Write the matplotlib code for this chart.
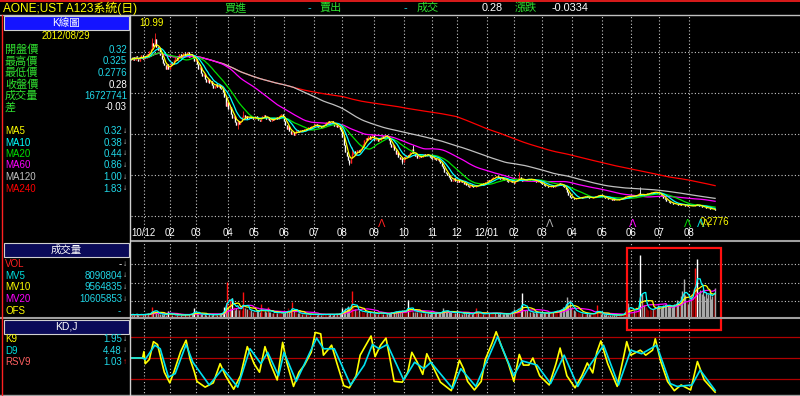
import numpy as np
import pandas as pd
import matplotlib
matplotlib.use('Agg')
import matplotlib.pyplot as plt
from matplotlib.patches import Rectangle
from matplotlib.lines import Line2D

plt.rcParams['font.family'] = ['Liberation Sans', 'Noto Sans CJK TC', 'DejaVu Sans']

# daily closes (one row per month roughly), last bar = 2012/08/29
close_prices = [
    9.40, 9.55, 9.35, 9.62, 9.50, 9.30, 9.58, 9.70, 9.45,
    9.60, 9.52, 9.75, 9.68, 9.90, 10.05, 10.40, 10.20, 10.65, 10.15, 9.95, 10.10,
    9.70, 9.45, 9.20, 9.05, 8.85, 9.10, 8.80, 9.00, 9.25, 9.15, 9.40,
    9.55, 9.35, 9.60, 9.75, 9.50, 9.68, 9.80, 9.62, 9.70, 9.85, 9.58, 9.72, 9.65, 9.50,
    9.30, 9.45, 9.10, 8.85, 8.95, 8.60, 8.40, 8.55, 8.25, 8.05, 8.20,
    7.95, 8.10, 7.85, 7.70, 7.80, 7.90, 7.75, 7.85, 7.70, 7.60, 7.45,
    7.10, 6.60, 6.85, 6.40, 6.55, 6.10, 5.85, 5.95, 5.60, 5.45, 5.70, 5.50, 5.65,
    5.90, 6.05, 5.85, 5.95, 5.80, 5.90, 6.00, 5.85, 5.78,
    5.82, 5.95, 5.88, 5.75, 5.70, 5.85, 5.98, 6.05, 5.92, 5.80, 5.86, 5.74, 5.68,
    5.80, 5.75, 5.85, 5.90, 5.78, 5.95, 6.05, 6.10, 5.95,
    5.70, 5.45, 5.20, 5.35, 5.05, 4.90, 5.00, 4.85, 4.95, 5.10, 5.05,
    5.00, 5.10, 5.05, 5.15, 5.20, 5.12, 5.25, 5.30, 5.22, 5.35, 5.40, 5.45,
    5.50, 5.38, 5.30, 5.35, 5.25, 5.32, 5.45, 5.55, 5.60, 5.70, 5.62, 5.55,
    5.65, 5.55, 5.40, 5.45, 5.30, 5.35, 5.20, 5.05, 4.70,
    4.20, 3.80, 3.55, 3.30, 3.10, 3.45, 3.70, 3.85, 3.60, 3.75,
    3.90, 3.80, 4.00, 4.15, 4.30, 4.50, 4.65, 4.55, 4.75, 4.60, 4.70, 4.80,
    4.55, 4.50, 4.62, 4.45, 4.55, 4.68, 4.75, 4.65, 4.80, 4.85, 4.70, 4.50,
    4.30, 4.10, 4.20, 3.90, 3.70, 3.80, 3.50, 3.35, 3.45, 3.20, 3.35, 3.55,
    3.60, 3.50, 3.65, 3.80, 4.00, 3.75, 3.55, 3.60, 3.45, 3.50,
    3.55, 3.48, 3.60, 3.65, 3.58, 3.70, 3.62, 3.50, 3.45,
    3.40, 3.45, 3.35, 3.30, 3.40, 3.25, 3.10, 2.95, 2.80, 2.60, 2.50,
    2.40, 2.25, 2.15, 2.05, 2.10, 2.20, 2.05, 2.00, 2.10, 2.00,
    2.05, 1.95, 1.85, 1.90, 1.80, 1.75, 1.70, 1.80, 1.72, 1.65, 1.70,
    1.75, 1.80, 1.78, 1.85, 1.90, 1.82, 1.88, 1.95, 2.00, 2.10,
    2.05, 2.15, 2.20, 2.30, 2.25, 2.35, 2.28, 2.20, 2.15, 2.25, 2.18, 2.10, 2.08,
    2.05, 2.00, 1.98, 2.02, 1.95, 1.92,
    2.05, 2.15, 2.20, 2.28, 2.10, 2.05, 2.12, 2.08, 2.15, 2.10,
    2.18, 2.12, 2.16, 2.10, 2.05, 2.00, 1.98, 2.02, 1.95,
    1.90, 1.85, 1.78, 1.72, 1.75, 1.68, 1.65, 1.72, 1.78, 1.70,
    1.75, 1.82, 1.85, 1.90, 1.88, 1.80, 1.72, 1.65, 1.55, 1.40,
    1.20, 1.05, 0.98, 1.02, 0.95, 0.92, 0.98, 1.00,
    1.05, 1.08, 1.02, 1.06, 1.10, 1.12, 1.08, 1.03, 0.98, 1.00,
    1.04, 1.08, 1.12, 1.15, 1.18, 1.20, 1.16,
    1.10, 1.05, 1.00, 0.98, 0.95, 0.97, 0.93, 0.90, 0.92, 0.88, 0.86, 0.88,
    0.92, 0.96, 1.00, 1.02, 1.06, 1.10, 1.15, 1.12, 1.08,
    1.10, 1.14, 1.12, 1.15, 1.18, 1.22, 1.30, 1.20, 1.18, 1.22, 1.20, 1.25,
    1.28, 1.30, 1.33, 1.35, 1.32, 1.36, 1.40, 1.34, 1.30, 1.25, 1.20,
    1.10, 1.00, 0.92, 0.85, 0.80, 0.75, 0.72, 0.68, 0.65, 0.62,
    0.64, 0.62, 0.60, 0.63, 0.61, 0.58, 0.56, 0.55, 0.57, 0.54, 0.52, 0.50,
    0.52, 0.55, 0.58, 0.62, 0.60, 0.55, 0.50, 0.46,
    0.46, 0.44, 0.42, 0.40, 0.38, 0.35, 0.33, 0.31, 0.32, 0.28,
]

# daily volume, millions of shares
volumes_m = [
    1.8, 2.1, 1.5, 2.0, 2.4, 1.4, 1.8, 2.2, 1.7, 2.0,
    2.2, 1.9, 2.6, 2.1, 3.2, 6.0, 3.6, 4.2, 2.8, 2.5,
    2.1, 2.0, 2.3, 1.8, 2.2, 1.7, 2.0, 4.0, 2.1, 1.7,
    1.5, 1.8, 2.0, 1.6, 1.4, 1.7, 1.9, 1.5, 1.7, 2.0,
    1.8, 1.5, 2.0, 2.4, 2.8, 2.4, 5.5, 3.0, 2.5, 2.1,
    2.2, 2.0, 2.4, 1.8, 2.1, 1.9, 1.7, 2.2, 1.8, 1.5,
    2.0, 1.8, 2.1, 1.8, 2.4, 2.1, 3.0, 3.5, 6.0, 7.0,
    20.0, 6.0, 10.5, 5.0, 11.0, 6.0, 4.5, 5.5, 7.0, 4.2,
    5.0, 4.5, 14.5, 5.6, 4.8, 5.2, 4.2, 3.8, 4.3, 3.5,
    3.9, 3.4, 3.6, 4.2, 3.2, 7.5, 3.5, 3.2, 3.8, 3.4,
    6.0, 3.2, 3.5, 2.9, 2.7, 3.1, 3.5, 2.9, 2.5, 2.8,
    3.2, 2.7, 2.9, 3.4, 3.5, 5.5, 3.2, 3.6, 9.0, 4.2,
    3.5, 3.1, 2.7, 2.8, 2.5, 2.2, 2.5, 2.1, 2.3, 2.0,
    2.1, 1.8, 2.0, 2.2, 1.9, 2.1, 1.8, 2.0, 2.2, 1.8,
    1.7, 2.0, 2.3, 1.9, 2.1, 1.8, 2.0, 2.2, 1.8, 2.0,
    2.1, 2.4, 2.0, 2.5, 3.0, 5.5, 4.6, 5.6, 4.9, 6.6,
    5.6, 4.6, 14.8, 6.3, 5.2, 4.8, 3.9, 4.2, 3.5, 3.9,
    3.2, 3.5, 2.9, 3.4, 2.8, 3.2, 2.7, 2.9, 2.5, 2.4,
    2.7, 2.2, 2.5, 4.0, 2.1, 2.3, 2.0, 2.4, 2.2, 2.5,
    2.8, 3.4, 2.9, 3.5, 3.9, 3.2, 4.1, 3.6, 3.4, 4.2,
    3.9, 4.3, 3.5, 10.0, 4.9, 4.1, 5.0, 3.5, 3.2, 3.9,
    3.4, 3.6, 3.1, 2.8, 3.2, 2.7, 2.9, 2.5, 2.8, 2.4,
    2.7, 2.5, 2.8, 2.5, 3.1, 2.7, 2.9, 3.2, 3.5, 5.5,
    3.6, 3.4, 3.9, 3.2, 3.5, 3.1, 2.7, 2.9, 2.8, 4.5,
    2.8, 2.5, 2.7, 2.4, 2.9, 2.5, 2.7, 2.2, 2.5, 2.1,
    2.4, 2.7, 3.2, 5.6, 2.8, 2.5, 2.2, 2.7, 2.1, 2.5,
    2.2, 2.5, 2.8, 2.5, 2.7, 2.9, 2.5, 2.8, 2.4, 2.7,
    2.2, 2.5, 2.1, 2.4, 2.2, 2.5, 2.1, 2.3, 2.7, 3.2,
    3.6, 4.9, 4.2, 3.9, 5.6, 6.3, 5.2, 14.0, 6.0, 4.6,
    3.9, 4.2, 3.5, 3.2, 3.6, 3.1, 2.8, 3.4, 2.9, 2.7,
    2.8, 2.5, 2.9, 2.7, 2.5, 2.8, 2.5, 3.1, 3.4, 3.5,
    3.2, 3.6, 4.1, 4.3, 3.9, 4.2, 4.9, 6.0, 6.3, 8.0,
    11.8, 7.0, 10.0, 5.6, 4.9, 4.2, 3.9, 3.5, 3.2, 2.9,
    2.8, 2.5, 2.7, 2.4, 2.2, 2.5, 2.1, 2.4, 2.2, 2.5,
    2.7, 2.9, 7.0, 2.8, 2.5, 2.2, 2.1, 2.0, 1.8, 2.1,
    1.8, 2.0, 1.7, 1.5, 1.8, 1.6, 1.4, 1.7, 1.5, 1.8,
    2.0, 2.1, 3.0, 4.5, 6.0, 8.5, 5.5, 4.2, 3.5, 4.4,
    5.0, 6.0, 4.5, 5.5, 35.0, 13.5, 9.0, 7.0, 6.0, 5.2,
    4.6, 5.0, 4.2, 4.8, 5.5, 6.5, 5.8, 7.0, 6.2, 5.5,
    6.0, 7.0, 7.5, 6.8, 7.2, 6.5, 7.0, 6.0, 6.4, 7.5,
    8.0, 10.0, 8.5, 9.0, 12.0, 15.0, 21.5, 12.5, 9.5, 8.0,
    10.5, 12.0, 14.0, 16.0, 27.6, 18.0, 32.8, 14.0, 15.5, 13.0,
    16.0, 12.0, 14.5, 11.0, 13.5, 15.0, 10.5, 12.0, 14.0, 16.7,
]

# intraday extremes that stick out of the bodies
high_marks = {15: 10.70, 17: 10.99, 82: 6.30, 162: 4.10, 207: 4.20,
              285: 2.58, 374: 1.66, 429: 0.325}
low_marks = {78: 5.20, 160: 3.00, 199: 3.05, 429: 0.2776}

# K9 / D9 turning points (day index, value)
k9_points = [
    (0, 50), (8, 50), (9, 59), (10, 42), (13, 48), (16, 73), (19, 69), (24, 30),
    (28, 15), (31, 30), (36, 59), (40, 75), (43, 48), (46, 31), (48, 17), (54, 9),
    (60, 15), (65, 42), (69, 25), (75, 6), (80, 25), (85, 66), (90, 42), (94, 30),
    (98, 66), (102, 42), (107, 19), (111, 72), (114, 44), (119, 10), (123, 30),
    (127, 40), (132, 58), (135, 86), (139, 84), (141, 54), (145, 63), (147, 68),
    (151, 42), (156, 11), (160, 8), (165, 25), (168, 54), (176, 81), (179, 52),
    (183, 68), (187, 78), (190, 48), (193, 17), (199, 16), (203, 30), (206, 58),
    (210, 44), (214, 27), (217, 56), (221, 40), (227, 16), (235, 4), (238, 25),
    (241, 47), (244, 35), (247, 17), (252, 5), (257, 17), (260, 48), (265, 71),
    (268, 87), (272, 66), (277, 42), (281, 17), (285, 55), (288, 40), (292, 40),
    (295, 50), (300, 25), (307, 12), (312, 42), (315, 64), (320, 25), (326, 8),
    (331, 25), (335, 43), (339, 29), (342, 58), (345, 74), (350, 42), (357, 10),
    (362, 54), (364, 73), (367, 54), (374, 61), (378, 54), (383, 61), (385, 77),
    (389, 45), (394, 17), (399, 4), (404, 12), (411, 5), (416, 45), (421, 19),
    (429, 1.95),
]
d9_points = [
    (0, 50), (8, 50), (10, 48), (17, 68), (21, 63), (27, 23), (32, 28), (40, 69),
    (45, 44), (57, 12), (67, 35), (78, 9), (87, 63), (95, 42), (100, 58),
    (108, 25), (112, 58), (121, 17), (136, 78), (141, 63), (149, 63), (161, 12),
    (171, 40), (177, 69), (182, 63), (188, 69), (200, 19), (208, 44), (215, 35),
    (220, 44), (236, 7), (242, 35), (253, 10), (269, 80), (281, 25), (287, 46),
    (298, 40), (308, 14), (318, 54), (328, 10), (337, 40), (347, 68), (358, 12),
    (367, 61), (375, 56), (386, 68), (396, 14), (401, 10), (412, 12), (418, 33),
    (429, 4.48),
]

month_pos = [9, 28, 47, 71, 90, 112, 134, 155, 178, 200,
             221, 239, 261, 281, 302, 324, 346, 367, 388, 410]
month_labels = ['10/12', '02', '03', '04', '05', '06', '07', '08', '09', '10',
                '11', '12', '12/01', '02', '03', '04', '05', '06', '07', '08']

signal_pos = [184, 307, 368, 409, 418, 422]
signal_colors = ['#ff2020', '#b0b0b0', '#ff00ff', '#00e000', '#00e0e0', '#e0e000']

W, H = 800, 396
GRID = '#c8c8c8'
GREEN = '#30e030'
CYAN = '#20d8e8'
YELLOW = '#ffff00'
PX_PER_DAY = 1.36


def fx(x):
    return x / W


def fy(y):
    return 1 - y / H


closes = np.array(close_prices)
n = len(closes)
x = np.arange(n)
opens = np.concatenate([[closes[0]], closes[:-1]])
highs = np.maximum(opens, closes)
lows = np.minimum(opens, closes)
for i, v in high_marks.items():
    highs[i] = v
for i, v in low_marks.items():
    lows[i] = v
up = closes > opens

s = pd.Series(closes)
ma = {w: s.rolling(w, min_periods=1).mean() for w in (5, 10, 20, 60, 120, 240)}
ma_colors = {5: YELLOW, 10: '#00ffff', 20: '#00e000', 60: '#ff00ff', 120: '#c0c0c0', 240: '#ff0000'}

vol = pd.Series(volumes_m)
mv = {w: vol.rolling(w, min_periods=1).mean() for w in (5, 10, 20)}
mv_colors = {5: '#00ffff', 10: YELLOW, 20: '#ff00ff'}

fig = plt.figure(figsize=(8, 3.96), dpi=100, facecolor='black')


def panel(top, bottom):
    ax = fig.add_axes([fx(131), fy(bottom), fx(800) - fx(131), (bottom - top) / H])
    ax.set_facecolor('black')
    ax.set_xlim(-0.5, -0.5 + 669 / PX_PER_DAY)
    for sp in ax.spines.values():
        sp.set_visible(False)
    ax.set_xticks([])
    ax.set_yticks([])
    for m in month_pos:
        ax.axvline(m, color=GRID, lw=0.8, ls=(0, (1, 2)))
    return ax


# price panel
ax1 = panel(16, 241)
ax1.set_ylim(-1.6, 12.04)
for g in np.linspace(-0.08, 9.86, 5):
    ax1.axhline(g, color=GRID, lw=0.8, ls=(0, (1, 2)))
candle_cols = np.where(up, '#ff2020', '#ffffff')
ax1.vlines(x, lows, highs, colors=candle_cols, lw=0.6)
ax1.vlines(x, np.minimum(opens, closes), np.maximum(opens, closes), colors=candle_cols, lw=1.0)
for w in (240, 120, 60, 20, 10, 5):
    ax1.plot(x, ma[w], color=ma_colors[w], lw=0.9)
for lab, m in zip(month_labels, month_pos):
    ax1.text(m, 0.036, lab, transform=ax1.get_xaxis_transform(), color='white',
             fontsize=7, ha='center', va='center')
imax = int(np.argmax(highs))
ax1.annotate(f'{highs[imax]:.2f}', xy=(imax, highs[imax]), xytext=(-3, 10),
             textcoords='offset pixels', color=YELLOW, fontsize=7, ha='center', va='center')
imin = int(np.argmin(lows))
ax1.annotate(f'{lows[imin]:.4f}', xy=(imin, lows[imin]), xytext=(-1, -12),
             textcoords='offset pixels', color=YELLOW, fontsize=7, ha='center', va='center')
for p, c in zip(signal_pos, signal_colors):
    ax1.text(p, 0.075, 'Λ', transform=ax1.get_xaxis_transform(), color=c,
             fontsize=8, ha='center', va='center')

# volume panel
ax2 = panel(242, 318)
ax2.set_ylim(0, 42)
for g in np.linspace(9.4, 29.8, 3):
    ax2.axhline(g, color=GRID, lw=0.8, ls=(0, (1, 2)))
vols = np.array(volumes_m)
prev = np.concatenate([[vols[0]], vols[:-1]])
jump = vols > prev * 1.6
vol_cols = np.where(up, np.where(jump, '#ff1010', '#8c0000'),
                    np.where(jump, '#ffffff', '#a8a8a8'))
ax2.vlines(x, 0, vols, colors=vol_cols, lw=1.0)
for w in (20, 10, 5):
    ax2.plot(x, mv[w], color=mv_colors[w], lw=0.9)

# KD panel
ax3 = panel(318, 396)
ax3.set_ylim(-3.5, 106.3)
for g in (20, 50, 80):
    ax3.axhline(g, color='#b00000', lw=0.9)
kx, kv = zip(*k9_points)
dx, dv = zip(*d9_points)
ax3.plot(kx, kv, color=YELLOW, lw=1.2)
ax3.plot(dx, dv, color='#00e0f0', lw=1.2)

# frame lines
fig.add_artist(Line2D([0, 1], [fy(0.5), fy(0.5)], color='#ff2020', lw=1.2))
fig.add_artist(Line2D([0, 1], [fy(15), fy(15)], color='#c0c0c0', lw=1))
fig.add_artist(Line2D([fx(131), 1], [fy(241), fy(241)], color='#a0a0a0', lw=1.5))
fig.add_artist(Line2D([0, 1], [fy(318), fy(318)], color='#a0a0a0', lw=1.5))
fig.add_artist(Line2D([0, 1], [fy(395), fy(395)], color='#a0a0a0', lw=1))
fig.add_artist(Line2D([fx(2), fx(2)], [fy(15), 0], color='#ff2020', lw=1))
fig.add_artist(Line2D([fx(130), fx(130)], [fy(15), 0], color='#d0d0d0', lw=1))

# red highlight box
fig.add_artist(Rectangle((fx(627), fy(330)), (721 - 627) / W, (330 - 248) / H,
                         transform=fig.transFigure, fill=False, ec='#ff1010', lw=1.6))


def txt(px, py, s, color, ha='left', size=7):
    fig.text(fx(px), fy(py), s, color=color, ha=ha, va='center', fontsize=size)


# title bar
txt(3, 8, 'AONE;UST A123系統(日)', YELLOW, size=8.6)
txt(224, 8, '買進', GREEN, size=8)
txt(308, 8, '-', CYAN, size=8)
txt(320, 8, '賣出', GREEN, size=8)
txt(403, 8, '-', CYAN, size=8)
txt(417, 8, '成交', GREEN, size=8)
txt(503, 8, '0.28', 'white', ha='right', size=7.8)
txt(515, 8, '漲跌', GREEN, size=8)
txt(552, 8, '-0.0334', 'white', size=7.8)


def header(top, bottom, label, face):
    fig.add_artist(Rectangle((fx(4), fy(bottom)), 125 / W, (bottom - top) / H,
                             transform=fig.transFigure, fc=face, ec='#d0d0d0', lw=0.8))
    txt(66, (top + bottom) / 2, label, 'white', ha='center', size=7.5)


header(16.5, 29.5, 'K線圖', '#1414ff')
txt(66, 36, '2012/08/29', YELLOW, ha='center')

info_labels = ['開盤價', '最高價', '最低價', '收盤價', '成交量', '差']
info_values = ['0.32', '0.325', '0.2776', '0.28', '16727741', '-0.03']
info_colors = [CYAN, CYAN, CYAN, 'white', CYAN, 'white']
for i, (lab, val, c) in enumerate(zip(info_labels, info_values, info_colors)):
    yy = 50 + i * 11.5
    txt(5, yy, lab, GREEN, size=8)
    txt(127, yy, val, c, ha='right')

ma_labels = ['MA5', 'MA10', 'MA20', 'MA60', 'MA120', 'MA240']
ma_values = ['0.32', '0.38', '0.44', '0.86', '1.00', '1.83']
for i, (lab, val, w) in enumerate(zip(ma_labels, ma_values, (5, 10, 20, 60, 120, 240))):
    yy = 131 + i * 11.5
    txt(5, yy, lab, ma_colors[w])
    txt(122, yy, val, CYAN, ha='right')
    txt(123, yy, '↓', '#d0d0d0', size=6)

header(243, 256.5, '成交量', '#0a0a58')
vol_labels = ['VOL', 'MV5', 'MV10', 'MV20', 'OFS']
vol_values = ['-', '8090804', '9564835', '10605853', '-']
vol_label_colors = ['#ff2020', '#00e0e0', YELLOW, '#ff00ff', YELLOW]
vol_value_colors = ['white', CYAN, CYAN, CYAN, CYAN]
for i in range(5):
    yy = 264 + i * 11.7
    txt(5, yy, vol_labels[i], vol_label_colors[i])
    txt(122 if i < 4 else 121, yy, vol_values[i], vol_value_colors[i], ha='right')
    if i < 4:
        txt(123, yy, '↓', '#d0d0d0', size=6)

header(320, 333.5, 'KD,J', '#0a0a58')
kd_labels = ['K9', 'D9', 'RSV9']
kd_values = ['1.95', '4.48', '1.03']
kd_label_colors = [YELLOW, '#00e0e0', '#ff6060']
kd_arrows = ['↓', '↓', '↑']
kd_arrow_colors = ['#d0d0d0', '#d0d0d0', '#ff2020']
for i in range(3):
    yy = 339.5 + i * 11.4
    txt(5, yy, kd_labels[i], kd_label_colors[i])
    txt(122, yy, kd_values[i], CYAN, ha='right')
    txt(123, yy, kd_arrows[i], kd_arrow_colors[i], size=6)

fig.savefig('out.png', dpi=100, facecolor='black')
